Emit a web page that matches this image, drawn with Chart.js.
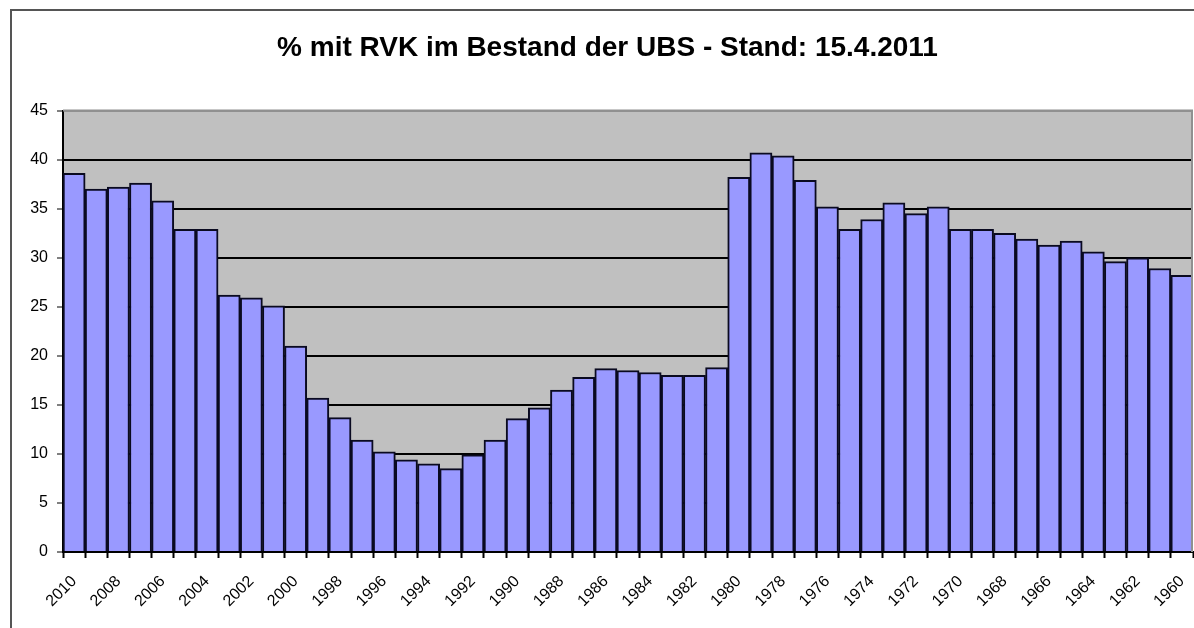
<!DOCTYPE html>
<html>
<head>
<meta charset="utf-8">
<script src="https://cdn.jsdelivr.net/npm/chart.js@4.4.1/dist/chart.umd.min.js"></script>
<style>
  html, body { margin: 0; padding: 0; background: #fff; }
  #wrap { width: 1194px; height: 628px; }
</style>
</head>
<body>
<div id="wrap"><canvas id="rvkChart" width="1194" height="628"></canvas></div>
<script>
// Jahre (Erscheinungsjahr), absteigend wie im Original
const years = [
  '2010', '2009', '2008', '2007', '2006', '2005', '2004', '2003', '2002', '2001',
  '2000', '1999', '1998', '1997', '1996', '1995', '1994', '1993', '1992', '1991',
  '1990', '1989', '1988', '1987', '1986', '1985', '1984', '1983', '1982', '1981',
  '1980', '1979', '1978', '1977', '1976', '1975', '1974', '1973', '1972', '1971',
  '1970', '1969', '1968', '1967', '1966', '1965', '1964', '1963', '1962', '1961',
  '1960'
];

// % mit RVK
const rvkPercent = [
  38.6, 37.0, 37.2, 37.6, 35.8, 32.9, 32.9, 26.2, 25.9, 25.1,
  21.0, 15.7, 13.7, 11.4, 10.2, 9.4, 9.0, 8.5, 9.9, 11.4,
  13.6, 14.7, 16.5, 17.8, 18.7, 18.5, 18.3, 18.0, 18.0, 18.8,
  38.2, 40.7, 40.4, 37.9, 35.2, 32.9, 33.9, 35.6, 34.5, 35.2,
  32.9, 32.9, 32.5, 31.9, 31.3, 31.7, 30.6, 29.6, 30.0, 28.9,
  28.2
];

// only every second year gets a label
const shownYears = [
  '2010', '2008', '2006', '2004', '2002', '2000', '1998', '1996', '1994', '1992',
  '1990', '1988', '1986', '1984', '1982', '1980', '1978', '1976', '1974', '1972',
  '1970', '1968', '1966', '1964', '1962', '1960'
];

const yTicks = [0, 5, 10, 15, 20, 25, 30, 35, 40, 45];

const FONT = "'Liberation Sans', Arial, sans-serif";

// grey plot area + outer frame
const excelLook = {
  id: 'excelLook',
  beforeDraw(chart) {
    const { ctx, chartArea: a } = chart;
    ctx.save();
    ctx.fillStyle = '#c0c0c0';
    ctx.fillRect(a.left, a.top, a.right - a.left, a.bottom - a.top);

    // frame of the chart object (top + left visible)
    ctx.strokeStyle = '#555';
    ctx.lineWidth = 2;
    ctx.beginPath();
    ctx.moveTo(11, 628);
    ctx.lineTo(11, 10);
    ctx.lineTo(1194, 10);
    ctx.stroke();
    ctx.restore();
  },
  afterDatasetsDraw(chart) {
    const { ctx, chartArea: a } = chart;
    ctx.save();
    ctx.strokeStyle = '#909090';
    ctx.lineWidth = 2;
    ctx.beginPath();
    ctx.moveTo(a.left, a.top);
    ctx.lineTo(a.right - 1, a.top);
    ctx.lineTo(a.right - 1, a.bottom);
    ctx.stroke();
    ctx.restore();
  }
};

const ctx = document.getElementById('rvkChart').getContext('2d');
const rvkChart = new Chart(ctx, {
  type: 'bar',
  data: {
    labels: years,
    datasets: [{
      label: '% mit RVK',
      data: rvkPercent,
      backgroundColor: '#9999ff',
      borderColor: '#0a0a20',
      borderWidth: 2,
      borderSkipped: 'bottom',
      categoryPercentage: 1.0,
      barPercentage: 1.0
    }]
  },
  options: {
    responsive: false,
    animation: false,
    devicePixelRatio: 1,
    layout: { padding: { left: 22, right: 1, top: 0, bottom: 0 } },
    plugins: {
      legend: { display: false },
      tooltip: { enabled: false },
      title: {
        display: true,
        text: '% mit RVK im Bestand der UBS - Stand: 15.4.2011',
        color: '#000',
        font: { family: FONT, size: 28, weight: 'bold' },
        padding: { top: 31, bottom: 46 }
      }
    },
    scales: {
      x: {
        offset: true,
        grid: {
          offset: true,
          drawOnChartArea: false,
          drawTicks: true,
          tickLength: 6,
          tickColor: '#000',
          tickWidth: 2
        },
        border: { display: true, color: '#000', width: 2 },
        ticks: {
          autoSkip: false,
          minRotation: 45,
          maxRotation: 45,
          color: '#000',
          padding: 14,
          font: { family: FONT, size: 16 },
          callback: function (value, index) {
            const y = years[index];
            return shownYears.includes(y) ? y : '';
          }
        },
        afterFit(scale) {
          scale.height = 76;
          scale.paddingLeft = 0;
          scale.paddingRight = 0;
        }
      },
      y: {
        min: 0,
        max: 45,
        afterBuildTicks(scale) {
          scale.ticks = yTicks.map(v => ({ value: v }));
        },
        grid: {
          color: ctx => (ctx.tick && ctx.tick.value === 45) ? '#909090' : '#000',
          lineWidth: 2,
          drawTicks: true,
          tickLength: 6,
          tickColor: '#000',
          tickWidth: 1
        },
        border: { display: true, color: '#000', width: 2 },
        ticks: {
          color: '#000',
          padding: 9,
          font: { family: FONT, size: 16 }
        },
        afterFit(scale) { scale.width = 41; }
      }
    }
  },
  plugins: [excelLook]
});
</script>
</body>
</html>
